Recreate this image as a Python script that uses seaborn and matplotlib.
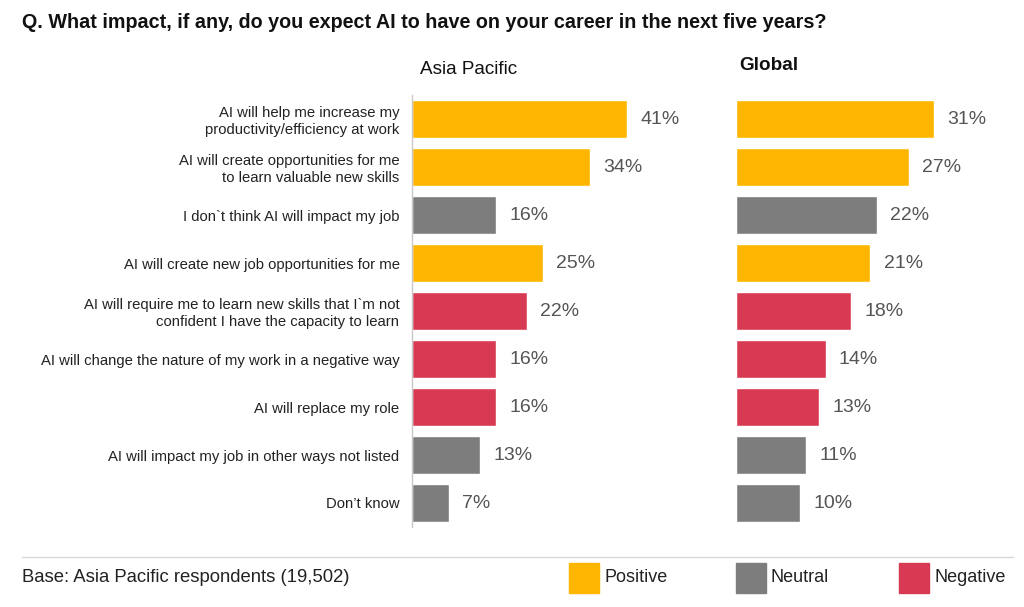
import matplotlib
matplotlib.use("Agg")
import pandas as pd
import matplotlib.pyplot as plt
import seaborn as sns
from matplotlib.patches import Rectangle
from matplotlib.lines import Line2D

# ------------------------------
# Data
# ------------------------------

statements = [
    "AI will help me increase my\nproductivity/efficiency at work",
    "AI will create opportunities for me\nto learn valuable new skills",
    "I don`t think AI will impact my job",
    "AI will create new job opportunities for me",
    "AI will require me to learn new skills that I`m not\nconfident I have the capacity to learn",
    "AI will change the nature of my work in a negative way",
    "AI will replace my role",
    "AI will impact my job in other ways not listed",
    "Don’t know",
]
sentiment = ["Positive", "Positive", "Neutral", "Positive", "Negative",
             "Negative", "Negative", "Neutral", "Neutral"]
asia_pacific = [41, 34, 16, 25, 22, 16, 16, 13, 7]
global_vals = [31, 27, 22, 21, 18, 14, 13, 11, 10]

colors = {"Positive": "#FFB600", "Neutral": "#7D7D7D", "Negative": "#D93A53"}

df = pd.DataFrame({
    "Statement": statements,
    "Sentiment": sentiment,
    "Asia Pacific": asia_pacific,
    "Global": global_vals,
})

sns.set_style("white")
plt.rcParams["font.family"] = ["Liberation Sans", "DejaVu Sans"]

fig = plt.figure(figsize=(10.24, 6.07), dpi=100)

W, H = 1024, 607
bottom = (H - 527) / H
height = (527 - 95) / H

ax1 = fig.add_axes([412 / W, bottom, 262 / W, height])
ax2 = fig.add_axes([736 / W, bottom, 320 / W, height])

# ------------------------------
# Bars
# ------------------------------

for ax, col in [(ax1, "Asia Pacific"), (ax2, "Global")]:
    sns.barplot(
        data=df, x=col, y="Statement", hue="Sentiment",
        palette=colors, dodge=False, width=0.8, legend=False, ax=ax,
        saturation=1
    )
    ax.set_xlim(0, 50)
    ax.set_xticks([])
    ax.set_xlabel("")
    ax.set_ylabel("")
    for s in ["top", "right", "bottom"]:
        ax.spines[s].set_visible(False)
    for i, v in enumerate(df[col]):
        ax.annotate(f"{v}%", xy=(v, i), xytext=(9.5, 0),
                    textcoords="offset points", va="center", ha="left",
                    fontsize=14, color="#555555")

ax1.spines["left"].set_color("#C8C8C8")
ax1.spines["left"].set_linewidth(1)
ax1.tick_params(axis="y", length=0, pad=9, labelsize=10.7, labelcolor="#222222")
for lab in ax1.get_yticklabels():
    lab.set_horizontalalignment("right")

ax2.spines["left"].set_visible(False)
ax2.set_yticks([])

# ------------------------------
# Titles
# ------------------------------

fig.text(22 / W, 1 - 22 / H,
         "Q. What impact, if any, do you expect AI to have on your career in the next five years?",
         fontsize=14.2, fontweight="bold", va="center", ha="left", color="#111111")
fig.text(420 / W, 1 - 70 / H, "Asia Pacific", fontsize=13.6,
         va="center", ha="left", color="#111111")
fig.text(739 / W, 1 - 65 / H, "Global", fontsize=13.6, fontweight="bold",
         va="center", ha="left", color="#111111")

# ------------------------------
# Footer and legend
# ------------------------------

fig.add_artist(Line2D([22 / W, 1013 / W], [1 - 557 / H, 1 - 557 / H],
                      color="#D8D8D8", linewidth=1))
fig.text(22 / W, 1 - 578 / H, "Base: Asia Pacific respondents (19,502)",
         fontsize=13.3, va="center", ha="left", color="#222222")

for x0, name in [(569, "Positive"), (736, "Neutral"), (899, "Negative")]:
    fig.add_artist(Rectangle((x0 / W, 1 - 593 / H), 30 / W, 30 / H,
                             color=colors[name], transform=fig.transFigure))
    fig.text((x0 + 35) / W, 1 - 578 / H, name, fontsize=13,
             va="center", ha="left", color="#222222")

fig.savefig("out.png", dpi=100)
